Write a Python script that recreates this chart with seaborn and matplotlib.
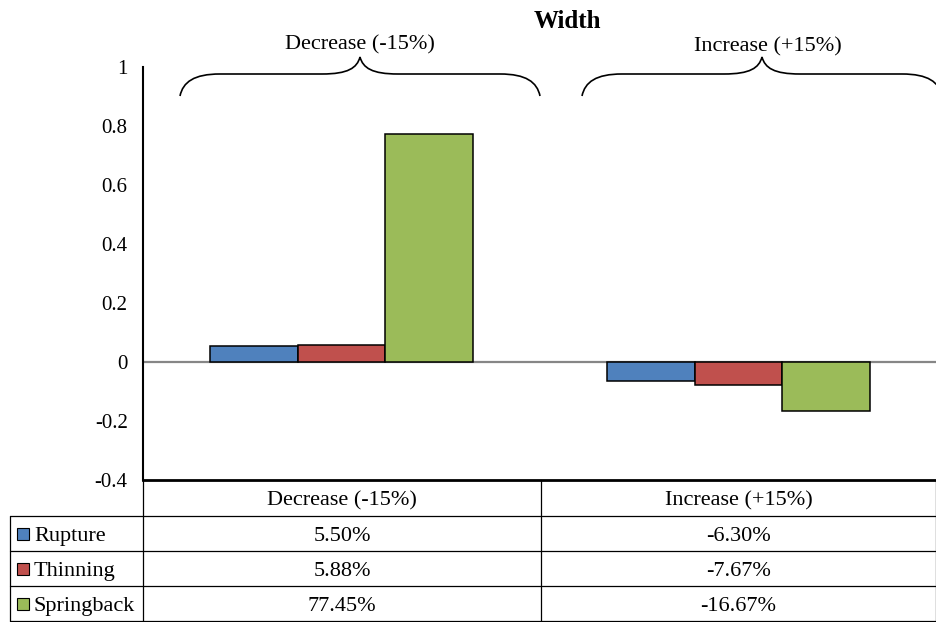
import numpy as np
import pandas as pd
import matplotlib
matplotlib.use("Agg")
import matplotlib.pyplot as plt
from matplotlib.path import Path
from matplotlib.patches import PathPatch, Rectangle
import seaborn as sns

# Data
groups = ["Decrease (-15%)", "Increase (+15%)"]
series = ["Rupture", "Thinning", "Springback"]
rupture = [0.0550, -0.0630]
thinning = [0.0588, -0.0767]
springback = [0.7745, -0.1667]
colors = ["#4F81BD", "#C0504D", "#9BBB59"]
y_ticks = [-0.4, -0.2, 0, 0.2, 0.4, 0.6, 0.8, 1]
title = "Width"

sns.set_theme(style="white")
plt.rcParams["font.family"] = ["Liberation Serif", "DejaVu Serif"]
plt.rcParams["text.color"] = "black"
plt.rcParams["ytick.color"] = "black"
plt.rcParams["ytick.labelcolor"] = "black"

W, H = 937, 622
fig = plt.figure(figsize=(W / 100, H / 100), dpi=100)


def px_box(x0, y0, x1, y1):
    return [x0 / W, 1 - y1 / H, (x1 - x0) / W, (y1 - y0) / H]


# Bar chart
ax = fig.add_axes(px_box(143, 67, 937, 480))
df = pd.DataFrame({
    "group": groups * 3,
    "series": np.repeat(series, len(groups)),
    "value": rupture + thinning + springback,
})
sns.barplot(data=df, x="group", y="value", hue="series", hue_order=series,
            order=groups, palette=colors, saturation=1, width=0.663,
            edgecolor="black", linewidth=1.1, legend=False, ax=ax)
ax.axhline(0, color="#868686", lw=1.6, zorder=0.9)
ax.set_xlim(-0.5, 1.5)
ax.set_ylim(-0.4, 1)
ax.set_yticks(y_ticks)
ax.set_yticklabels([f"{t:g}" for t in y_ticks])
ax.set_xticks([])
ax.set_xlabel("")
ax.set_ylabel("")
ax.tick_params(axis="y", length=0, pad=11, labelsize=15, labelcolor="black")
for s in ("top", "right"):
    ax.spines[s].set_visible(False)
ax.spines["left"].set_color("black")
ax.spines["left"].set_linewidth(1.5)
ax.spines["bottom"].set_color("black")
ax.spines["bottom"].set_linewidth(2.0)

# Overlay in pixel coordinates for title, braces and data table
ov = fig.add_axes([0, 0, 1, 1])
ov.set_xlim(0, W)
ov.set_ylim(H, 0)
ov.axis("off")

ov.text(567, 21, title, ha="center", va="center", fontsize=18,
        fontweight="bold")


def brace(cx, half=180, y_end=96, y_mid=74, y_tip=57):
    x0, x1 = cx - half, cx + half
    verts = [
        (x0, y_end),
        (x0 + 3, y_mid + 8), (x0 + 14, y_mid), (x0 + 40, y_mid),
        (cx - 38, y_mid),
        (cx - 12, y_mid), (cx - 3, y_mid - 6), (cx, y_tip),
        (cx + 3, y_mid - 6), (cx + 12, y_mid), (cx + 38, y_mid),
        (x1 - 40, y_mid),
        (x1 - 14, y_mid), (x1 - 3, y_mid + 8), (x1, y_end),
    ]
    codes = [Path.MOVETO,
             Path.CURVE4, Path.CURVE4, Path.CURVE4,
             Path.LINETO,
             Path.CURVE4, Path.CURVE4, Path.CURVE4,
             Path.CURVE4, Path.CURVE4, Path.CURVE4,
             Path.LINETO,
             Path.CURVE4, Path.CURVE4, Path.CURVE4]
    ov.add_patch(PathPatch(Path(verts, codes), fill=False, lw=1.2,
                           ec="black", clip_on=False))


brace(360)
brace(762)
dy = 3  # nudge text to sit on the visual centre of each cell
ov.text(360, 42 + dy, groups[0], ha="center", va="center", fontsize=16)
ov.text(768, 44 + dy, groups[1], ha="center", va="center", fontsize=16)

# Data table under the bars
row_y = [480, 516, 551, 586, 621]
col_x = [10, 143, 541, 936]
lw = 0.9
for y in row_y[1:]:
    ov.plot([col_x[0], col_x[-1]], [y, y], color="black", lw=lw)
ov.plot([col_x[0], col_x[0]], [row_y[1], row_y[-1]], color="black", lw=lw)
for x in col_x[1:]:
    ov.plot([x, x], [row_y[0], row_y[-1]], color="black", lw=lw)

col_centers = [(col_x[1] + col_x[2]) / 2, (col_x[2] + col_x[3]) / 2]
for cx, g in zip(col_centers, groups):
    ov.text(cx, (row_y[0] + row_y[1]) / 2 + dy, g, ha="center", va="center",
            fontsize=16)

for i, (name, vals, col) in enumerate(zip(series,
                                          [rupture, thinning, springback],
                                          colors)):
    yc = (row_y[i + 1] + row_y[i + 2]) / 2
    ov.add_patch(Rectangle((17, yc - 6), 12, 12, fc=col, ec="black", lw=0.8))
    ov.text(34, yc + dy, name, ha="left", va="center", fontsize=16)
    for cx, v in zip(col_centers, vals):
        ov.text(cx, yc + dy, f"{v * 100:.2f}%", ha="center", va="center",
                fontsize=16)

fig.savefig("out.png", dpi=100)
